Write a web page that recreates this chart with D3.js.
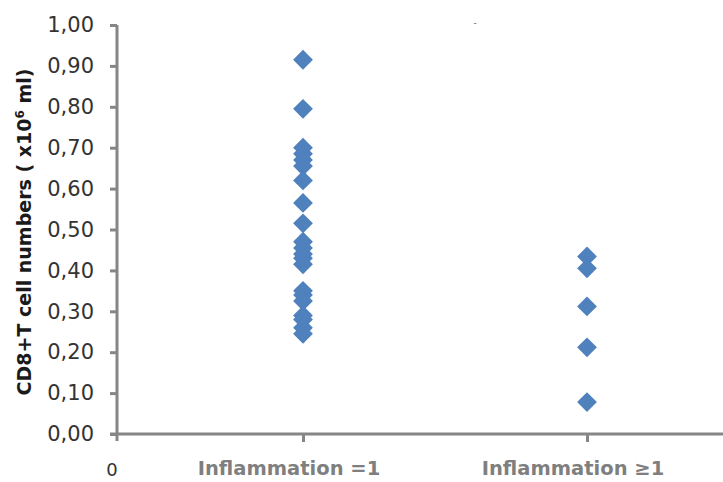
<!DOCTYPE html>
<html>
<head>
<meta charset="utf-8">
<script src="https://cdn.jsdelivr.net/npm/d3@7"></script>
<style>
	html, body { margin: 0; padding: 0; background: #fff; }
	svg { display: block; }
</style>
</head>
<body>
<div id="chart"></div>
<script>
(function() {
	"use strict";

	var categories = ['0', 'Inflammation =1', 'Inflammation \u22651'];
	var categoryX = [0, 1, 2];
	var yTicks = [0, 0.1, 0.2, 0.3, 0.4, 0.5, 0.6, 0.7, 0.8, 0.9, 1.0];

	var inflammationEq1 = [0.915, 0.795, 0.70, 0.685, 0.67, 0.655, 0.62, 0.565, 0.515,
		0.47, 0.455, 0.44, 0.43, 0.415, 0.35, 0.34, 0.325, 0.29, 0.28, 0.26, 0.245];
	var inflammationGe1 = [0.434, 0.405, 0.312, 0.212, 0.078];

	var width = 723, height = 482;
	var axisColor = '#868686';
	var pointColor = '#4F81BD';

	var svg = d3.select('#chart')
		.append('svg')
		.attr('width', width)
		.attr('height', height);

	var x = d3.scaleLinear()
		.domain([0, 1, 2])
		.range([117, 303, 587]);

	var y = d3.scaleLinear()
		.domain([0, 1])
		.range([434, 25]);

	// y axis
	var yAxis = svg.append('g')
		.attr('transform', 'translate(117,0)')
		.call(d3.axisLeft(y)
			.tickValues(yTicks)
			.tickSize(7)
			.tickPadding(16)
			.tickFormat(function (d) { return d3.format('.2f')(d).replace('.', ','); }));

	yAxis.select('.domain')
		.attr('d', 'M0,' + y(1) + 'V' + (y(0) + 7))
		.attr('stroke', axisColor)
		.attr('stroke-width', 3);

	yAxis.selectAll('.tick line')
		.attr('stroke', axisColor)
		.attr('stroke-width', 3);

	yAxis.selectAll('.tick text')
		.attr('fill', '#333')
		.style('font-family', '"DejaVu Sans", sans-serif')
		.style('font-size', '21px');

	// x axis
	var xAxis = svg.append('g')
		.attr('transform', 'translate(0,' + y(0) + ')')
		.call(d3.axisBottom(x)
			.tickValues(categoryX.slice(1))
			.tickSize(8)
			.tickFormat(''));

	xAxis.select('.domain')
		.attr('d', 'M' + (x(0) - 7) + ',0H' + width)
		.attr('stroke', axisColor)
		.attr('stroke-width', 3);

	xAxis.selectAll('.tick line')
		.attr('stroke', axisColor)
		.attr('stroke-width', 3);

	svg.append('text')
		.attr('x', x(0) - 5)
		.attr('y', 476)
		.attr('text-anchor', 'middle')
		.attr('fill', '#333')
		.style('font-family', '"DejaVu Sans", sans-serif')
		.style('font-size', '18px')
		.text(categories[0]);

	svg.selectAll('.cat-label')
		.data(categoryX.slice(1))
		.enter()
		.append('text')
		.classed('cat-label', true)
		.attr('x', function (d) { return x(d) - 14; })
		.attr('y', 475)
		.attr('text-anchor', 'middle')
		.attr('fill', '#7f7f7f')
		.style('font-family', '"DejaVu Sans", sans-serif')
		.style('font-weight', 'bold')
		.style('font-size', '19.5px')
		.text(function (d) { return categories[d]; });

	// y title
	var title = svg.append('text')
		.attr('transform', 'translate(31,232) rotate(-90)')
		.attr('text-anchor', 'middle')
		.attr('fill', '#1a1a1a')
		.style('font-family', '"DejaVu Sans", sans-serif')
		.style('font-weight', 'bold')
		.style('font-size', '19px');
	title.append('tspan').text('CD8+T cell numbers ( x10');
	title.append('tspan').attr('dy', -7).style('font-size', '12px').text('6');
	title.append('tspan').attr('dy', 7).text(' ml)');

	// stray mark at top
	svg.append('text')
		.attr('x', 475)
		.attr('y', 26)
		.attr('text-anchor', 'middle')
		.attr('fill', '#666')
		.style('font-family', '"DejaVu Sans", sans-serif')
		.style('font-size', '9px')
		.text('-');

	// points
	var points = [];
	inflammationEq1.forEach(function (v) { points.push({ cat: 1, value: v }); });
	inflammationGe1.forEach(function (v) { points.push({ cat: 2, value: v }); });

	var diamond = d3.symbol().type(d3.symbolSquare).size(196);

	svg.append('g')
		.selectAll('path')
		.data(points)
		.enter()
		.append('path')
		.attr('d', diamond)
		.attr('fill', pointColor)
		.attr('transform', function (d) {
			return 'translate(' + x(d.cat) + ',' + y(d.value) + ') rotate(45)';
		});
}());
</script>
</body>
</html>
